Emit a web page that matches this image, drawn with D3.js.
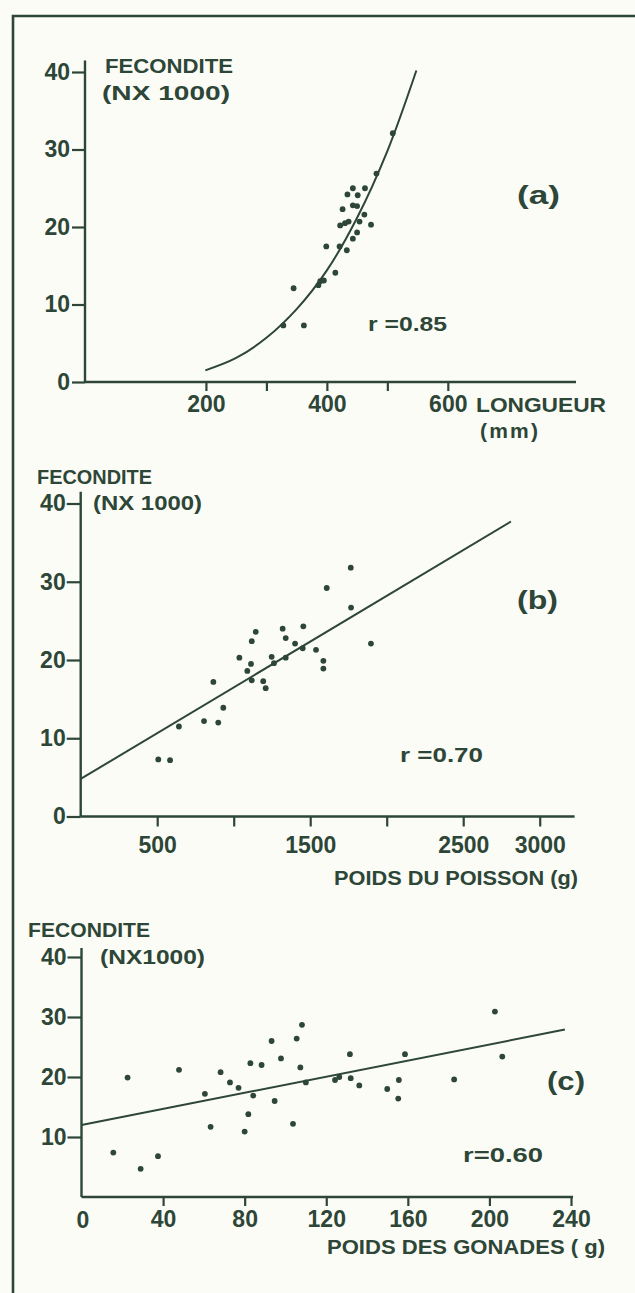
<!DOCTYPE html>
<html><head><meta charset="utf-8">
<script src="https://cdn.jsdelivr.net/npm/d3@7"></script>
<style>body{margin:0;background:#fcfcf6}svg{display:block}</style>
</head><body>
<script>
// ---------- DATA ----------
// Panel (a): fecundity vs length
const lengthA = [509,482,443,463,434,451,426,443,450,462,473,422,430,436,454,450,443,399,421,433,414,389,395,386,345,328,362];
const fecA    = [32.1,26.9,25.0,25.0,24.2,24.1,22.3,22.8,22.7,21.6,20.3,20.2,20.5,20.7,20.7,19.3,18.5,17.5,17.5,17.0,14.1,13.0,13.1,12.5,12.1,7.3,7.3];
const curveLenA = [199,250,300,350,400,450,500,548];
const curveFecA = [1.5,3.1,5.7,9.4,14.4,21.2,29.8,40.2];
const xTicksA = [200,300,400,500,600];
const xTickLabelsA = ["200","","400","","600"];

// Panel (b): fecundity vs fish weight
const weightB = [507,584,642,806,899,867,932,1037,1089,1113,1118,1144,1118,1193,1209,1248,1263,1340,1320,1340,1401,1455,1451,1538,1765,1608,1767,1586,1586,1897];
const fecB    = [7.3,7.2,11.5,12.2,12.0,17.2,13.9,20.3,18.6,19.5,22.4,23.6,17.4,17.3,16.4,20.4,19.6,20.3,24.0,22.8,22.1,24.3,21.5,21.3,31.8,29.2,26.7,19.9,18.9,22.1];
const lineXB = [0,2812];
const lineYB = [4.8,37.7];
const xTicksB = [500,1000,1500,2000,2500,3000];
const xTickLabelsB = ["500","","1500","","2500","3000"];

// Panel (c): fecundity vs gonad weight
const gonadC = [15.6,22.6,29.0,37.5,47.8,60.5,63.3,68.2,72.8,77.0,81.8,80.0,82.8,84.2,88.3,93.2,94.7,97.8,103.7,105.5,107.3,108.1,110.0,124.3,126.4,131.6,132.0,136.2,149.9,155.6,155.3,158.6,182.7,202.7,206.3];
const fecC   = [7.4,19.9,4.7,6.8,21.2,17.2,11.7,20.8,19.1,18.2,13.8,10.9,22.3,16.9,22.0,26.0,16.0,23.1,12.2,26.4,21.6,28.7,19.1,19.5,20.0,23.8,19.8,18.6,18.0,19.5,16.4,23.8,19.6,30.9,23.4];
const lineXC = [0,237];
const lineYC = [12.0,27.9];
const xTicksC = [40,80,120,160,200,240];
const xTickLabelsC = ["40","80","120","160","200","240"];

const yTicksAB = [0,10,20,30,40];
const yTicksC = [10,20,30,40];

const yTitle = ["FECONDITE","(NX 1000)","(NX1000)"];
const xTitles = ["LONGUEUR","(mm)","POIDS DU POISSON (g)","POIDS DES GONADES ( g)"];
const panelTags = ["(a)","(b)","(c)"];
const rLabels = ["r =0.85","r =0.70","r=0.60"];

// ---------- DRAW ----------
const INK = "#2d4637";
const FONT = "'Liberation Sans', Arial, sans-serif";
const TICKFONT = 23;
const W = 635, H = 1293;
const svg = d3.select("body").append("svg").attr("width", W).attr("height", H);
svg.append("rect").attr("width", W).attr("height", H).attr("fill", "#fcfcf6");

// frame
svg.append("path").attr("d", "M635,16 H13 V1293").attr("fill","none").attr("stroke",INK).attr("stroke-width",2.6);

function txt(g, s, x, y, size, len, weight, adjust) {
  const t = g.append("text").attr("x", x).attr("y", y).text(s)
    .attr("font-family", FONT).attr("font-size", size).attr("font-weight", weight || "bold")
    .attr("fill", INK);
  if (len) t.attr("textLength", len).attr("lengthAdjust", adjust || "spacingAndGlyphs");
  return t;
}

function panel(cfg) {
  const g = svg.append("g");
  const x = cfg.x, y = cfg.y;
  // y axis
  const ya = d3.axisLeft(y).tickValues(cfg.yTicks).tickSize(cfg.yTickSize).tickPadding(cfg.yPad).tickFormat(d3.format("d"));
  const gy = g.append("g").attr("transform", `translate(${x(0)},0)`).call(ya);
  gy.select(".domain").remove();
  gy.selectAll("line").attr("stroke", INK).attr("stroke-width", 2.2);
  gy.selectAll("text").attr("font-family", FONT).attr("font-size", TICKFONT).attr("font-weight","bold").attr("fill", INK);
  g.append("line").attr("x1", x(0)).attr("x2", x(0)).attr("y1", y(0)).attr("y2", y(cfg.yTop))
    .attr("stroke", INK).attr("stroke-width", 2.4);
  // x axis
  const xa = d3.axisBottom(x).tickValues(cfg.xTicks).tickSize(cfg.xTickSize).tickPadding(cfg.xPad)
    .tickFormat((d,i) => cfg.xLabels[i]);
  const gx = g.append("g").attr("transform", `translate(0,${y(0)})`).call(xa);
  gx.select(".domain").remove();
  gx.selectAll("line").attr("stroke", INK).attr("stroke-width", 2.2);
  gx.selectAll("text").attr("font-family", FONT).attr("font-size", TICKFONT).attr("font-weight","bold").attr("fill", INK);
  g.append("line").attr("x1", x(0)).attr("x2", x(cfg.xEnd)).attr("y1", y(0)).attr("y2", y(0))
    .attr("stroke", INK).attr("stroke-width", 2.4);
  // fit
  const line = d3.line().x(d => x(d[0])).y(d => y(d[1])).curve(cfg.curve || d3.curveLinear);
  g.append("path").datum(cfg.fit).attr("d", line).attr("fill","none").attr("stroke",INK).attr("stroke-width",2);
  // points
  g.selectAll("circle").data(cfg.pts).enter().append("circle")
    .attr("cx", d => x(d[0])).attr("cy", d => y(d[1])).attr("r", 2.9).attr("fill", INK);
  return g;
}

// Panel a
const xA = d3.scaleLinear().domain([0, 812]).range([85, 576]);
const yA = d3.scaleLinear().domain([0, 40]).range([382, 72]);
const gA = panel({x:xA, y:yA, yTicks:yTicksAB, yTickSize:13, yPad:2, yTop:41.5,
  xTicks:xTicksA, xLabels:xTickLabelsA, xTickSize:9, xPad:5, xEnd:812,
  fit: curveLenA.map((d,i)=>[d, curveFecA[i]]), curve: d3.curveCatmullRom,
  pts: lengthA.map((d,i)=>[d, fecA[i]])});
txt(gA, yTitle[0], 105, 73, 21, 128);
txt(gA, yTitle[1], 102, 100, 21, 128);
txt(gA, xTitles[0], 476, 412, 21, 130);
txt(gA, xTitles[1], 480, 438, 21, 58, "bold", "spacing");
txt(gA, panelTags[0], 517, 204, 26, 43);
txt(gA, rLabels[0], 368, 331, 21, 79);

// Panel b
const xB = d3.scaleLinear().domain([0, 3228]).range([80.7, 574.6]);
const yB = d3.scaleLinear().domain([0, 40]).range([816.5, 503.5]);
const gB = panel({x:xB, y:yB, yTicks:yTicksAB, yTickSize:14, yPad:1, yTop:41.5,
  xTicks:xTicksB, xLabels:xTickLabelsB, xTickSize:10, xPad:10, xEnd:3228,
  fit: lineXB.map((d,i)=>[d, lineYB[i]]),
  pts: weightB.map((d,i)=>[d, fecB[i]])});
txt(gB, yTitle[0], 37, 484, 21, 115);
txt(gB, yTitle[1], 93, 510, 21, 109);
txt(gB, xTitles[2], 334, 885, 21, 244);
txt(gB, panelTags[1], 517, 609, 26, 41);
txt(gB, rLabels[1], 400, 762, 21, 83);

// Panel c
const xC = d3.scaleLinear().domain([0, 240]).range([81.5, 571]);
const yC = d3.scaleLinear().domain([0, 40]).range([1197, 957]);
const gC = panel({x:xC, y:yC, yTicks:yTicksC, yTickSize:14, yPad:1, yTop:41.5,
  xTicks:xTicksC, xLabels:xTickLabelsC, xTickSize:9, xPad:5, xEnd:241,
  fit: lineXC.map((d,i)=>[d, lineYC[i]]),
  pts: gonadC.map((d,i)=>[d, fecC[i]])});
txt(gC, "0", xC(0) - 5, 1228, TICKFONT);
txt(gC, yTitle[0], 28, 937, 21, 122);
txt(gC, yTitle[2], 100, 964, 21, 105);
txt(gC, xTitles[3], 327, 1254, 21, 278);
txt(gC, panelTags[2], 547, 1090, 26, 38);
txt(gC, rLabels[2], 463, 1162, 21, 80);
</script>
</body></html>
